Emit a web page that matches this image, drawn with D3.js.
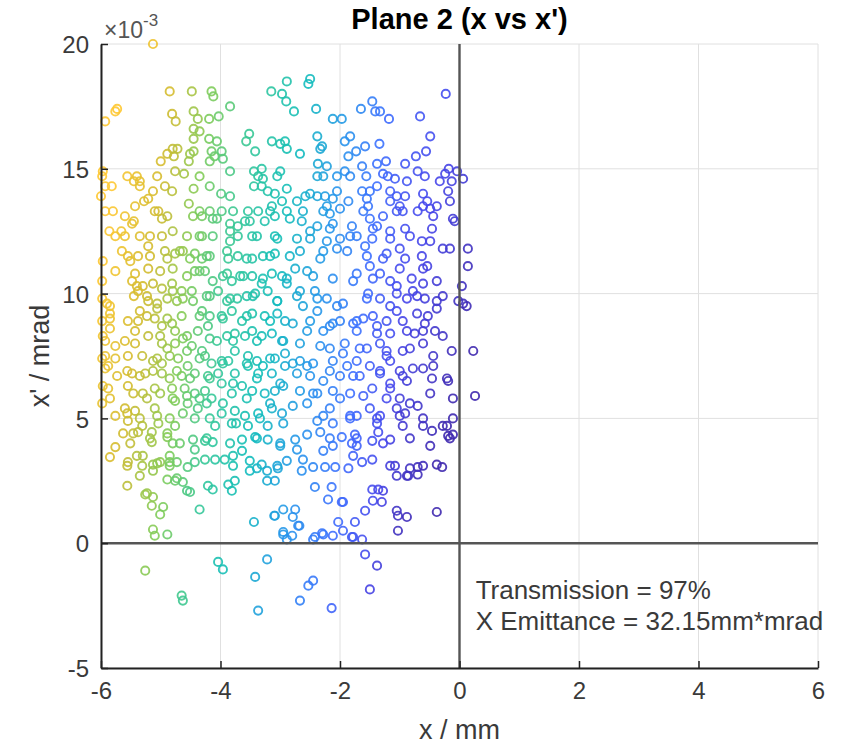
<!DOCTYPE html>
<html><head><meta charset="utf-8">
<script src="https://cdn.jsdelivr.net/npm/d3@7"></script>
<style>body{margin:0;background:#fff} svg{display:block} text{font-family:"Liberation Sans",Arial,Helvetica,sans-serif}</style>
</head><body><svg id="c" width="842" height="746"></svg>
<script>
// ---------- data (x in mm, x' in units of 1e-3) ----------
const xTicks = [-6, -4, -2, 0, 2, 4, 6];
const yTicks = [-5, 0, 5, 10, 15, 20];
const xDomain = [-6, 6];
const yDomain = [-5, 20];
const titleText = "Plane 2 (x vs x')";
const xLabel = "x / mm";
const yLabel = "x' / mrad";
const notes = ["Transmission = 97%", "X Emittance = 32.15mm*mrad"];

const groupTopLeft = [[-5.13,20.0],[-5.93,16.9],[-5.76,17.3],[-5.73,17.4],[-4.85,18.1],[-4.48,18.1],[-4.15,18.1],[-4.12,17.9],[-4.81,17.2],[-4.75,16.9],[-4.45,17.3],[-4.38,17.0],[-4.19,17.0],[-4.03,17.1],[-3.84,17.5],[-4.45,16.6],[-4.35,16.5],[-4.45,16.2],[-4.19,16.2],[-4.06,16.1],[-4.80,15.8],[-4.72,15.8],[-4.89,15.6],[-4.78,15.5],[-5.0,15.3],[-4.51,15.6],[-4.45,15.7],[-4.15,15.7],[-4.1,15.5],[-3.98,15.7],[-3.96,15.4],[-4.18,15.3],[-4.53,15.3],[-3.52,16.4],[-3.57,16.1],[-3.42,15.7],[-3.15,18.1],[-2.97,18.0],[-2.90,17.7],[-2.89,18.5],[-3.14,16.1],[-3.0,16.0],[-2.92,16.1],[-2.89,15.8],[-3.84,14.9],[-4.76,14.9],[-4.61,14.8],[-5.06,14.7],[-4.35,14.7],[-5.56,14.7],[-5.40,14.7],[-5.35,14.5],[-5.45,14.5],[-5.97,14.9],[-5.98,14.7],[-5.82,14.3],[-5.93,14.3],[-5.35,14.3],[-5.13,14.1],[-4.93,14.3],[-4.81,14.1],[-4.45,14.2],[-4.18,14.3],[-3.99,14.0],[-3.84,13.9],[-6.0,13.9],[-5.21,13.8],[-5.28,13.7],[-5.43,13.5],[-4.53,13.6],[-5.93,13.3],[-5.80,13.3],[-5.60,13.1],[-5.45,12.9],[-5.04,13.3],[-4.98,13.0],[-4.89,13.1],[-4.46,13.1],[-4.31,13.1],[-4.18,13.3],[-3.98,13.3],[-4.13,13.0],[-3.84,12.8],[-3.54,13.3],[-3.37,13.3],[-3.44,14.9],[-3.31,15.0],[-3.37,14.7],[-3.29,14.6],[-3.44,14.3],[-3.31,14.3],[-3.21,14.1],[-3.09,14.0],[-3.0,14.9],[-3.05,14.7],[-2.89,14.2],[-3.14,13.5],[-2.97,13.7],[-2.89,13.3],[-3.59,12.9],[-3.71,12.7],[-3.26,12.9],[-3.09,13.1]];

const groupTopRight = [[-2.50,18.6],[-2.53,18.4],[-2.77,17.3],[-2.40,17.4],[-2.12,17.0],[-1.97,17.0],[-1.46,17.7],[-1.65,17.4],[-1.41,17.3],[-1.33,17.3],[-1.18,17.0],[-0.66,17.1],[-0.23,18.0],[-0.49,16.3],[-0.56,15.7],[-0.73,15.5],[-0.91,15.2],[-1.34,16.0],[-1.58,15.9],[-1.92,16.1],[-1.83,16.3],[-1.86,15.5],[-1.73,15.7],[-2.38,16.3],[-2.30,15.9],[-2.33,15.8],[-2.67,15.6],[-1.23,15.3],[-1.38,15.2],[-1.63,15.1],[-2.37,15.2],[-2.22,15.1],[-2.38,14.7],[-2.28,14.7],[-2.05,14.7],[-1.92,14.9],[-1.83,14.7],[-1.56,14.7],[-1.28,14.8],[-1.20,14.7],[-1.08,14.6],[-0.88,14.5],[-0.70,14.9],[-0.58,14.7],[-0.33,14.5],[-0.24,14.8],[-0.18,15.0],[-0.04,14.9],[0.06,14.6],[-0.13,14.5],[-2.50,14.0],[-2.58,13.9],[-2.38,13.9],[-2.25,13.9],[-2.05,14.1],[-2.12,13.8],[-1.63,14.1],[-1.50,14.1],[-1.38,14.3],[-1.16,14.1],[-1.05,13.9],[-0.91,13.9],[-0.61,14.0],[-0.54,13.7],[-0.49,13.4],[-0.38,13.5],[-0.19,14.1],[-0.16,13.7],[-0.08,12.9],[-1.55,13.8],[-1.16,13.7],[-1.0,13.5],[-1.86,13.7],[-1.53,13.5],[-1.50,13.0],[-1.28,13.1],[-1.05,13.3],[-0.70,13.3],[-2.22,13.5],[-2.72,13.7],[-2.62,13.3],[-2.17,13.2],[-2.0,13.4],[-2.64,12.9],[-2.38,12.7],[-2.12,12.8],[-1.80,12.7],[-1.38,12.7],[-1.16,12.5],[-0.91,12.6],[-0.46,12.6]];

const groupMidLeft = [[-5.76,12.3],[-5.60,12.3],[-5.18,12.3],[-4.98,12.3],[-4.31,12.3],[-4.13,12.3],[-3.84,12.1],[-3.71,12.3],[-3.47,12.3],[-3.09,12.3],[-5.65,11.7],[-5.55,11.5],[-5.38,11.5],[-5.21,11.9],[-5.18,11.5],[-4.89,11.4],[-4.76,11.6],[-4.63,11.7],[-4.51,11.4],[-4.43,11.6],[-4.31,11.4],[-4.18,11.5],[-3.87,11.4],[-3.71,11.5],[-3.47,11.4],[-3.29,11.5],[-3.09,11.6],[-5.97,11.3],[-5.76,10.9],[-5.43,10.8],[-5.98,10.5],[-5.21,11.0],[-5.01,10.9],[-4.80,11.0],[-4.56,10.7],[-4.43,10.9],[-4.26,10.9],[-4.13,10.5],[-3.89,10.8],[-3.81,10.5],[-3.67,10.7],[-3.47,10.7],[-3.31,10.4],[-3.14,10.8],[-2.97,10.7],[-2.89,10.4],[-5.48,10.5],[-5.30,10.3],[-5.13,10.4],[-4.98,10.2],[-4.81,10.4],[-4.65,10.1],[-4.48,10.1],[-5.45,9.9],[-5.38,10.1],[-5.21,9.7],[-5.06,9.6],[-4.89,9.8],[-4.73,9.7],[-4.46,9.7],[-4.18,9.9],[-4.04,10.1],[-3.89,9.7],[-3.72,9.8],[-3.56,9.9],[-3.42,10.0],[-3.21,10.1],[-3.05,9.7],[-5.90,9.6],[-5.85,9.2],[-5.98,8.9],[-5.85,8.6],[-5.55,8.9],[-5.38,8.9],[-5.23,9.1],[-5.10,9.0],[-4.81,8.8],[-4.65,9.1],[-4.31,9.3],[-4.18,9.1],[-3.98,9.1],[-3.81,9.3],[-3.64,8.9],[-3.47,9.2],[-3.26,9.1],[-3.05,9.2],[-2.92,8.9],[-5.43,8.5],[-5.21,8.3],[-4.98,8.7],[-4.76,8.5],[-4.56,8.3],[-4.38,8.5],[-4.21,8.7],[-4.06,8.1],[-3.89,8.3],[-3.76,8.4],[-3.59,8.3],[-3.47,8.5],[-3.31,8.3],[-3.14,8.4],[-2.97,8.1]];

const groupMidLeft2 = [[-5.93,8.1],[-5.76,7.9],[-5.60,8.1],[-5.43,8.0],[-4.98,8.0],[-4.89,7.8],[-4.76,8.0],[-4.48,7.9],[-4.31,7.7],[-4.26,7.5],[-4.15,7.2],[-3.98,7.3],[-3.87,7.3],[-3.76,7.7],[-3.54,7.5],[-3.39,7.3],[-3.29,7.1],[-3.09,7.4],[-2.92,7.6],[-5.93,7.5],[-5.76,7.4],[-5.55,7.5],[-5.31,7.5],[-5.13,7.3],[-4.98,7.2],[-4.71,7.4],[-4.55,7.1],[-5.93,7.0],[-5.73,6.7],[-5.48,6.8],[-5.26,6.8],[-4.98,6.8],[-4.85,6.6],[-4.65,6.7],[-4.43,6.8],[-4.21,6.7],[-4.04,6.8],[-3.76,6.8],[-3.54,7.1],[-3.37,6.8],[-3.14,6.8],[-2.92,7.1],[-5.88,6.2],[-5.55,6.3],[-5.30,6.0],[-5.10,6.2],[-4.81,6.2],[-4.60,6.2],[-4.43,6.0],[-4.26,6.1],[-4.15,5.8],[-3.98,6.4],[-3.81,6.0],[-3.64,6.3],[-3.47,6.1],[-3.26,6.0],[-3.09,6.1],[-2.95,6.3],[-5.98,5.6],[-5.60,5.4],[-5.43,5.3],[-5.10,5.4],[-4.76,5.7],[-4.55,5.6],[-4.38,5.4],[-4.23,5.6],[-4.43,5.0],[-3.98,5.2],[-3.76,5.3],[-3.59,5.1],[-3.37,5.2],[-3.14,5.4],[-2.97,5.2],[-5.55,4.9],[-5.31,4.7],[-5.04,4.8],[-4.76,4.7],[-4.09,4.7],[-3.81,4.8],[-3.54,4.7],[-3.21,4.7]];

const groupMidRight = [[-2.72,12.2],[-2.50,12.2],[-2.22,12.1],[-2.0,12.2],[-1.72,12.3],[-1.46,12.2],[-1.16,12.2],[-0.63,12.1],[-0.28,11.8],[-0.16,11.8],[0.14,11.8],[-2.67,11.7],[-2.33,11.4],[-2.05,11.8],[-1.88,11.7],[-1.58,11.9],[-1.22,11.6],[-1.0,11.8],[-0.91,11.4],[-0.63,11.5],[-0.54,11.1],[0.14,11.1],[-2.75,11.0],[-2.45,10.7],[-2.12,10.6],[-1.72,10.8],[-1.50,11.1],[-1.33,10.8],[-1.16,10.5],[-1.0,11.0],[-0.80,10.6],[-0.61,10.4],[-0.38,10.5],[0.04,10.3],[0.06,9.6],[0.12,9.5],[-0.02,9.7],[-2.67,10.1],[-2.42,10.1],[-2.22,9.8],[-1.95,9.6],[-1.53,10.0],[-1.33,9.8],[-1.05,10.0],[-0.88,9.8],[-0.71,9.9],[-0.58,9.8],[-0.38,9.7],[-2.62,9.5],[-2.38,9.3],[-2.0,8.9],[-1.78,8.8],[-1.61,9.0],[-1.45,9.1],[-1.22,8.9],[-1.05,9.3],[-0.71,9.2],[-0.53,9.1],[-0.58,8.8],[-0.41,8.5],[-2.79,8.8],[-2.55,8.5],[-2.28,8.5],[-2.12,8.8],[-1.72,8.5],[-1.38,8.4],[-1.16,8.4],[-0.88,8.5],[-0.75,8.4],[-2.67,8.0],[-2.33,7.9],[-2.17,7.8],[-1.92,8.0],[-1.67,7.8],[-1.33,8.0],[-1.22,7.7],[-0.95,7.7],[-0.61,8.0],[-0.13,7.7],[0.23,7.7]];

const groupMidRight2 = [[-2.67,7.3],[-2.45,7.2],[-2.12,7.3],[-1.88,7.1],[-1.72,7.3],[-1.50,7.1],[-1.16,7.3],[-1.0,6.9],[-0.78,7.0],[-0.44,7.1],[-2.72,6.8],[-2.50,6.7],[-2.28,6.5],[-2.0,6.7],[-1.67,6.7],[-1.33,6.8],[-1.16,6.4],[-0.88,6.5],[-0.46,6.6],[-0.19,6.5],[-2.67,6.1],[-2.45,6.0],[-2.12,6.1],[-1.83,6.0],[-1.46,6.2],[-1.16,6.2],[-1.0,5.8],[-0.70,5.5],[-0.11,5.8],[0.26,5.9],[-2.55,5.6],[-2.17,5.4],[-1.83,5.1],[-1.50,5.4],[-1.33,5.1],[-1.05,5.4],[-0.91,5.2],[-1.72,5.1],[-0.11,5.0],[-0.21,4.7],[-2.38,4.9],[-2.12,4.8],[-1.38,4.8],[-0.95,4.7],[-0.61,4.7]];

const groupLowLeft = [[-5.38,4.45],[-5.15,4.45],[-5.76,3.85],[-5.85,3.45],[-5.51,4.0],[-5.15,4.05],[-4.89,4.25],[-4.80,4.0],[-5.40,3.5],[-5.31,3.1],[-5.55,3.25],[-5.13,3.15],[-5.01,3.25],[-5.13,2.9],[-4.85,3.25],[-4.73,3.25],[-4.55,3.05],[-4.85,3.5],[-4.43,3.25],[-4.26,3.35],[-4.43,3.75],[-4.46,4.15],[-4.26,4.1],[-4.13,4.05],[-4.09,3.35],[-3.93,3.35],[-3.79,3.5],[-3.64,3.7],[-3.64,4.15],[-3.42,4.25],[-3.21,4.15],[-3.0,4.0],[-3.51,3.3],[-3.51,2.9],[-3.31,3.15],[-3.22,2.9],[-3.04,3.0],[-2.89,3.3],[-4.89,2.55],[-4.76,2.5],[-4.63,2.45],[-5.56,2.3],[-4.56,2.1],[-4.51,2.05],[-4.21,2.3],[-4.13,2.15],[-3.87,2.35],[-3.81,2.1],[-3.76,2.5],[-3.22,2.5],[-3.09,2.5],[-5.26,1.95],[-5.13,1.85],[-5.15,1.5],[-5.01,1.15],[-4.96,1.45],[-4.35,1.35],[-5.13,0.55],[-5.10,0.3],[-4.89,0.35],[-2.95,1.35],[-3.09,1.1],[-3.44,0.85],[-2.95,0.35],[-5.26,-1.1],[-4.04,-0.75],[-3.96,-1.05],[-3.22,-0.65],[-3.42,-1.35],[-4.65,-2.1],[-4.63,-2.3],[-3.37,-2.7]];

const groupLowRight = [[-2.75,4.15],[-2.55,4.35],[-2.33,4.45],[-2.72,3.75],[-2.28,3.7],[-2.12,3.9],[-1.97,4.25],[-1.75,4.35],[-1.80,4.0],[-1.72,3.9],[-1.46,4.1],[-1.36,4.45],[-1.16,4.15],[-0.46,4.5],[-0.19,4.3],[-0.11,4.35],[-2.62,3.35],[-2.45,3.05],[-2.64,2.9],[-2.25,3.05],[-2.08,3.05],[-1.86,3.0],[-1.78,3.5],[-1.63,3.25],[-1.46,3.35],[-1.08,3.1],[-1.05,2.7],[-0.86,2.7],[-0.83,3.0],[-0.70,3.05],[-0.70,2.75],[-0.38,3.15],[-0.29,3.05],[-2.42,2.25],[-2.14,2.25],[-2.20,1.75],[-1.97,1.65],[-1.46,2.15],[-1.36,2.15],[-1.28,2.1],[-1.45,1.7],[-1.30,1.65],[-1.58,1.3],[-1.05,1.3],[-1.03,1.1],[-0.88,1.05],[-0.38,1.25],[-1.03,0.5],[-2.75,1.35],[-2.79,1.05],[-2.70,0.7],[-2.03,0.85],[-1.75,0.85],[-1.95,0.5],[-2.42,0.25],[-2.28,0.35],[-2.12,0.3],[-1.80,0.25],[-1.63,0.15],[-2.80,0.3],[-1.58,-0.45],[-1.38,-0.9],[-1.50,-1.85],[-2.45,-1.5],[-2.53,-1.7],[-2.67,-2.3],[-2.14,-2.6],[-2.95,0.45],[-2.89,0.15],[-3.10,1.1],[-2.68,0.7],[-2.45,0.15],[-2.30,0.4],[-1.78,0.25],[-1.95,1.65]];

// additional points read from the dense core
const groupCoreLeft = [[-5.86,12.5],[-5.66,12.5],[-5.48,12.8],[-5.35,12.3],[-5.98,9.8],[-5.85,9.5],[-5.85,9.0],[-5.97,8.3],[-5.98,7.4],[-5.88,7.1],[-5.97,6.3],[-5.85,5.8],[-5.76,5.1],[-5.63,4.4],[-5.51,11.3],[-5.10,13.3],[-4.80,12.5],[-4.56,12.3],[-4.93,11.7],[-4.68,11.7],[-5.40,10.3],[-5.23,9.9],[-4.80,10.1],[-4.63,9.8],[-5.35,9.3],[-5.06,9.4],[-4.89,9.0],[-5.01,8.3],[-4.63,8.2],[-5.06,7.4],[-4.85,7.5],[-4.56,7.7],[-5.56,6.9],[-5.35,6.7],[-5.13,6.9],[-4.73,6.9],[-4.51,6.6],[-5.46,6.0],[-5.23,5.8],[-5.01,6.0],[-4.80,5.8],[-4.56,5.9],[-5.56,5.2],[-5.35,5.0],[-5.06,5.1],[-4.85,5.0],[-4.63,5.2],[-5.46,4.4],[-5.18,4.2],[-4.89,4.4],[-4.68,4.0],[-5.30,3.5],[-5.06,3.2],[-4.85,3.1],[-5.56,3.1],[-5.35,2.7],[-4.73,2.6],[-5.23,2.0]];

const groupCoreMid = [[-4.35,13.3],[-4.06,13.0],[-3.79,13.3],[-3.51,12.9],[-3.17,13.3],[-2.84,13.0],[-4.35,12.3],[-3.84,12.5],[-3.39,12.3],[-3.05,12.2],[-4.23,11.5],[-3.89,11.7],[-3.56,11.4],[-3.17,11.5],[-2.84,11.5],[-4.35,10.9],[-3.96,10.7],[-3.62,10.7],[-3.29,10.6],[-2.89,10.6],[-4.23,9.9],[-3.84,9.8],[-3.46,9.9],[-3.05,9.7],[-2.72,9.9],[-4.35,9.1],[-3.96,9.0],[-3.56,9.1],[-3.17,8.9],[-4.18,8.2],[-3.79,8.1],[-3.39,8.1],[-2.95,8.1],[-4.35,7.4],[-3.96,7.2],[-3.56,7.2],[-3.17,7.4],[-2.79,7.2],[-4.18,6.6],[-3.79,6.4],[-3.39,6.6],[-3.0,6.4],[-4.35,5.8],[-3.96,5.6],[-3.56,5.8],[-3.17,5.6],[-2.79,5.5],[-4.18,5.0],[-3.74,4.8],[-3.34,5.0],[-2.95,4.8],[-4.23,4.2],[-3.84,4.0],[-3.39,4.2],[-3.0,3.9],[-3.79,3.1],[-3.39,3.0],[-3.05,3.1]];

const groupCoreRight = [[-2.28,13.3],[-1.61,13.3],[-0.95,13.3],[-0.61,13.5],[-0.44,13.1],[-0.11,13.0],[-2.50,12.5],[-2.17,12.6],[-1.83,12.3],[-1.45,12.6],[-0.83,12.3],[-0.49,12.1],[-2.28,11.7],[-1.55,11.5],[-1.28,11.4],[-0.61,11.0],[-2.55,10.9],[-1.78,10.5],[-1.45,10.6],[-1.05,10.3],[-0.78,10.1],[-0.28,9.9],[-2.38,9.8],[-2.05,9.5],[-1.55,9.8],[-1.16,9.5],[-0.38,9.4],[-2.50,8.9],[-2.17,8.7],[-1.72,8.9],[-1.38,8.7],[-0.95,8.9],[-0.61,8.5],[-0.28,8.3],[-1.95,7.6],[-1.55,7.8],[-1.22,7.5],[-0.83,7.8],[-0.44,7.5],[-2.55,7.1],[-2.17,6.9],[-1.78,6.7],[-1.33,6.9],[-0.95,6.7],[-0.61,7.0],[-0.21,6.6],[-2.38,6.0],[-2.0,5.8],[-1.61,5.9],[-1.22,5.8],[-0.83,5.6],[-0.49,6.0],[-2.28,5.1],[-1.83,5.0],[-1.38,5.0],[-1.0,5.1],[-0.61,5.0],[-0.28,4.7],[-2.17,4.2],[-1.72,4.2],[-1.28,4.0],[-0.83,4.2],[-0.49,3.9],[-0.16,4.2],[-1.16,3.1],[-0.88,2.7],[-0.61,3.1]];

const points = [].concat(groupTopLeft, groupTopRight, groupMidLeft, groupMidLeft2,
  groupMidRight, groupMidRight2, groupLowLeft, groupLowRight,
  groupCoreLeft, groupCoreMid, groupCoreRight);

// MATLAB parula colormap stops
const parulaStops = ["#3e26a8","#4747eb","#3e6fff","#2796eb","#13bebb","#37c897","#81cc59","#d1bb30","#fec832","#f5e524","#f9fb14"];
// colour index as a function of x
const colorXs = [0.3, 0, -1, -2, -3, -4, -5, -6];
const colorTs = [0.0, 0.03, 0.1, 0.25, 0.38, 0.5, 0.66, 0.78];

// ---------- drawing ----------
const svg = d3.select("#c");
const x = d3.scaleLinear().domain(xDomain).range([101, 818]);
const y = d3.scaleLinear().domain(yDomain).range([668, 44]);
const parula = d3.scaleLinear().domain(d3.range(parulaStops.length).map(i => i / (parulaStops.length - 1)))
  .range(parulaStops).interpolate(d3.interpolateRgb);
const tOfX = d3.scaleLinear().domain(colorXs).range(colorTs).clamp(true);
const colorIndex = d => Math.max(0.01, Math.min(0.8, tOfX(d[0]) + 0.008 * (d[1] - 9)));

// grid
const grid = svg.append("g").attr("stroke", "#e0e0e0").attr("stroke-width", 1);
grid.selectAll(".gx").data(xTicks).join("line")
  .attr("x1", d => x(d)).attr("x2", d => x(d)).attr("y1", y(yDomain[0])).attr("y2", y(yDomain[1]));
grid.selectAll(".gy").data(yTicks).join("line")
  .attr("y1", d => y(d)).attr("y2", d => y(d)).attr("x1", x(xDomain[0])).attr("x2", x(xDomain[1]));

// points
svg.append("g").selectAll("circle").data(points).join("circle")
  .attr("cx", d => x(d[0])).attr("cy", d => y(d[1])).attr("r", 4.1)
  .attr("fill", "none").attr("stroke", d => parula(colorIndex(d)))
  .attr("stroke-width", 1.9).attr("stroke-opacity", 0.9);

// zero lines
svg.append("line").attr("x1", x(0)).attr("x2", x(0)).attr("y1", y(yDomain[0])).attr("y2", y(yDomain[1]))
  .attr("stroke", "#555").attr("stroke-width", 2.4);
svg.append("line").attr("y1", y(0)).attr("y2", y(0)).attr("x1", x(xDomain[0])).attr("x2", x(xDomain[1]))
  .attr("stroke", "#555").attr("stroke-width", 2.4);

// axes
const fmt = d => String(d);
const ax = svg.append("g").attr("transform", `translate(0,${y(yDomain[0])})`)
  .call(d3.axisBottom(x).tickValues(xTicks).tickSizeInner(-7).tickSizeOuter(0).tickPadding(14).tickFormat(fmt));
const ay = svg.append("g").attr("transform", `translate(${x(xDomain[0])},0)`)
  .call(d3.axisLeft(y).tickValues(yTicks).tickSizeInner(-7).tickSizeOuter(0).tickPadding(12).tickFormat(fmt));
[ax, ay].forEach(a => {
  a.select(".domain").attr("stroke", "#222").attr("stroke-width", 2);
  a.selectAll(".tick line").attr("stroke", "#222").attr("stroke-width", 1.5);
  a.selectAll(".tick text").attr("fill", "#3a3a3a").style("font-size", "24px").style("font-family", '"Liberation Sans", Arial, sans-serif');
});
ay.selectAll(".tick text").attr("dy", "0.36em");

// exponent label
const ex = svg.append("text").attr("x", 104).attr("y", 38).attr("fill", "#555").style("font-size", "23px");
ex.append("tspan").text("\u00d710");
ex.append("tspan").attr("dy", -12).style("font-size", "17px").text("-3");

// title
svg.append("text").attr("x", x(0)).attr("y", 29).attr("text-anchor", "middle")
  .style("font-size", "29px").style("font-weight", "bold").attr("fill", "#000").text(titleText);

// axis labels
svg.append("text").attr("x", x(0)).attr("y", 739).attr("text-anchor", "middle")
  .style("font-size", "27px").attr("fill", "#3a3a3a").text(xLabel);
svg.append("text").attr("transform", `translate(49,${y(7.5)}) rotate(-90)`).attr("text-anchor", "middle")
  .style("font-size", "27px").attr("fill", "#3a3a3a").text(yLabel);

// annotation
svg.append("g").selectAll("text").data(notes).join("text")
  .attr("x", x(0.27)).attr("y", (d, i) => y(-2.25) + i * 31)
  .style("font-size", "26px").attr("fill", "#3a3a3a").text(d => d);
</script></body></html>
